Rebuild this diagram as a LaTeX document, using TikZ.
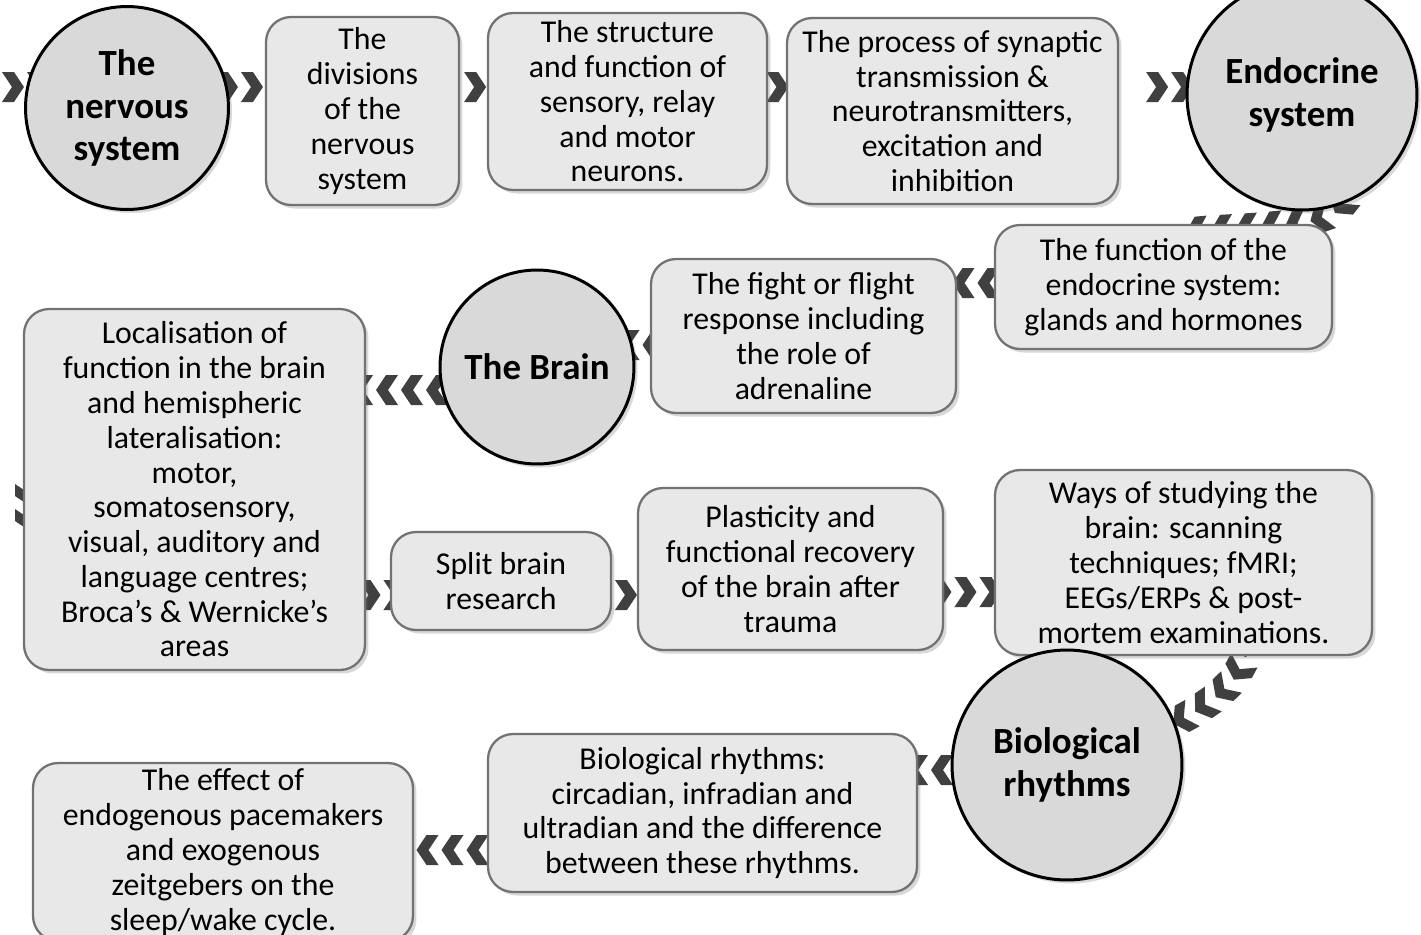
\documentclass[tikz,border=0pt]{standalone}
\usepackage{fontspec}
\setmainfont{Carlito}
\usepackage{tikz}
\usetikzlibrary{decorations.markings}
\usetikzlibrary{shadows}
\usetikzlibrary{backgrounds}
\definecolor{boxfill}{RGB}{232,232,232}
\definecolor{boxline}{RGB}{118,113,113}
\definecolor{topicfill}{RGB}{217,217,217}
\definecolor{chevgray}{RGB}{64,64,64}
\tikzset{box/.style = {draw=boxline, line width=1.3pt, fill=boxfill,
                       rounded corners=0.5cm, align=center, inner sep=2pt,
                       font=\fontsize{18.1}{19.8}\selectfont,
                       drop shadow={shadow xshift=2pt, shadow yshift=-2pt,
                                    opacity=0.25, fill=black!60}}}
\tikzset{topic/.style = {draw=black, line width=1.7pt, fill=topicfill, circle,
                         align=center, inner sep=0,
                         font=\fontsize{21}{24.2}\selectfont\bfseries,
                         drop shadow={shadow xshift=2pt, shadow yshift=-2pt,
                                      opacity=0.25, fill=black!60}}}
\tikzset{chevs/.style = {decoration={markings,
                                     mark=between positions #1 and 1 step 0.5cm with
                                     {\fill [chevgray] (-0.22cm,-0.3cm) -- (0.02cm,-0.3cm)
                                        -- (0.22cm,0cm) -- (0.02cm,0.3cm) -- (-0.22cm,0.3cm)
                                        -- (-0.02cm,0cm) -- cycle;}},
                         decorate},
         chevs/.default = 0}

\begin{document}
\begin{tikzpicture}[x=0.02cm, y=-0.02cm]
    \useasboundingbox (0,0) rectangle (1421,934);
    % first row
    \node [topic, minimum size=4.06cm] (nervous) at (127,108) {The\\nervous\\system};
    \node [box, minimum width=3.86cm, minimum height=3.76cm] (divisions) at (362.5,111)
      {The\\divisions\\of the\\nervous\\system};
    \node [box, minimum width=5.58cm, minimum height=3.54cm] (neurons) at (627.5,101.5)
      {The structure\\and function of\\sensory, relay\\and motor\\neurons.};
    \node [box, minimum width=6.62cm, minimum height=3.72cm] (synapse) at (952.5,111)
      {The process of synaptic\\transmission \&\\neurotransmitters,\\excitation and\\inhibition};
    \node [topic, minimum size=4.6cm] (endocrine) at (1302,95) {Endocrine\\system};
    % second row
    \node [box, minimum width=6.74cm, minimum height=2.48cm] (glands) at (1163.5,287)
      {The function of the\\endocrine system:\\glands and hormones};
    \node [box, minimum width=6.1cm, minimum height=3.08cm] (fight) at (803.5,336)
      {The fight or flight\\response including\\the role of\\adrenaline};
    \node [topic, minimum size=3.88cm] (brain) at (537,367) {The Brain};
    \node [box, minimum width=6.82cm, minimum height=7.22cm] (localise) at (194.5,489.5)
      {Localisation of\\function in the brain\\and hemispheric\\lateralisation:\\motor,\\somatosensory,\\visual, auditory and\\language centres;\\Broca’s \& Wernicke’s\\areas};
    % third row
    \node [box, minimum width=4.4cm, minimum height=1.96cm] (split) at (501,581)
      {Split brain\\research};
    \node [box, minimum width=6.1cm, minimum height=3.24cm] (plastic) at (790.5,569)
      {Plasticity and\\functional recovery\\of the brain after\\trauma};
    \node [box, minimum width=7.54cm, minimum height=3.7cm] (studying) at (1183.5,562.5)
      {Ways of studying the\\brain: scanning\\techniques; fMRI;\\EEGs/ERPs \& post-\\mortem examinations.};
    % last row
    \node [topic, minimum size=4.6cm] (rhythms) at (1067,765) {Biological\\rhythms};
    \node [box, minimum width=8.58cm, minimum height=3.16cm] (bio) at (702.5,813)
      {Biological rhythms:\\circadian, infradian and\\ultradian and the difference\\between these rhythms.};
    \node [box, minimum width=7.6cm, minimum height=3.56cm] (sleep) at (223,852)
      {The effect of\\endogenous pacemakers\\and exogenous\\zeitgebers on the\\sleep/wake cycle.};

    \coordinate (start) at (-12,87);
    \coordinate (row1) at (0,87);
    \coordinate (row2) at (0,283);
    \coordinate (row3) at (0,345);
    \coordinate (row4) at (0,390);
    \coordinate (row5) at (0,595);
    \coordinate (row6) at (0,592);
    \coordinate (row7) at (0,770);
    \coordinate (row8) at (0,850);
    \coordinate (turn1) at (30,495);
    \coordinate (turn2) at (30,522);

    \begin{pgfonlayer}{background}
      \fill [white] (0,0) rectangle (1421,934);
      \path [chevs] (start) -- (nervous |- row1);
      \path [chevs] (nervous |- row1) -- (divisions |- row1);
      \path [chevs=0.3cm] (divisions.east |- row1) -- (neurons |- row1);
      \path [chevs] (neurons |- row1) -- (synapse |- row1);
      \path [chevs=0.76cm] (synapse.east |- row1) -- (endocrine |- row1);
      \path [chevs] (endocrine.-70) .. controls +(-20,25) and +(50,-5) .. ([shift={(30,8)}]glands.north);
      \path [chevs] (glands |- row2) -- (fight |- row2);
      \path [chevs] (fight |- row3) -- (brain |- row3);
      \path [chevs] (brain |- row4) -- (localise |- row4);
      \path [chevs] (turn1) -- (turn2);
      \path [chevs] (localise |- row5) -- (split |- row5);
      \path [chevs] (split |- row5) -- (plastic |- row5);
      \path [chevs] (plastic |- row6) -- (studying |- row6);
      \path [chevs] ([shift={(62,-10)}]studying.south) .. controls +(0,60) and +(60,-20) .. (rhythms.center);
      \path [chevs] (rhythms |- row7) -- (bio |- row7);
      \path [chevs] (bio |- row8) -- (sleep |- row8);
    \end{pgfonlayer}
\end{tikzpicture}
\end{document}
